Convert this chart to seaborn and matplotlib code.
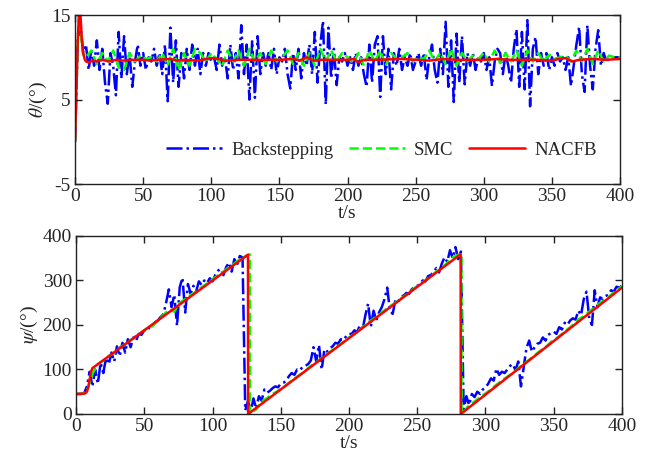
import numpy as np
import matplotlib
matplotlib.use("Agg")
import matplotlib.pyplot as plt
import seaborn as sns

# ---- theta (grados), Backstepping muestreado cada 2 s ----
t_bs = np.arange(0, 401, 2)
theta_bs = [
    0, 12, 14, 10.5, 11.5, 8.5, 11, 9, 12, 8.5,
    11, 7, 4.5, 10.5, 9, 5.5, 13, 7.5, 12.5, 8,
    10.5, 6.5, 9.5, 11.5, 9, 10.5, 8.5, 10, 9.5, 11,
    9, 10.5, 8, 11.5, 4.8, 13.5, 7, 12, 6.5, 10.5,
    7.5, 11, 8.5, 11.5, 9, 11, 8, 10.5, 9, 10.5,
    9.5, 10, 8.5, 11.5, 9, 10, 7.5, 11.5, 8.5, 10.5,
    7.5, 13.8, 8, 11.5, 5, 12, 5.2, 12.5, 8, 10.5,
    9, 10.5, 8.5, 11, 8, 10, 9.5, 11, 8, 6.3,
    10.5, 8.5, 11, 7.5, 10.5, 9, 11.5, 8, 13, 7,
    11.5, 14.3, 4.4, 13.5, 7.5, 11, 6.7, 10, 9.5, 10.5,
    9, 10, 8.5, 10.5, 9, 10, 8, 6.5, 11.5, 7,
    11.5, 12.5, 5.3, 12.5, 8, 11, 6.2, 10.5, 9, 11,
    8.5, 10, 9, 10.5, 8.5, 9.5, 10.5, 9, 10.5, 7.3,
    10, 11.5, 8.5, 7, 11, 8, 14.2, 6.5, 12, 4.7,
    12.8, 7, 12.5, 6.8, 10.5, 9, 10.5, 8.5, 10, 9.5,
    10.5, 8.5, 10, 6.6, 9.5, 11, 10.5, 8, 10.5, 9,
    7, 11, 13.3, 6.5, 13, 6.2, 14.4, 4.2, 11, 12.4,
    8, 10.5, 9, 10.5, 8.5, 10, 9, 10.5, 9.5, 10,
    8.5, 10, 6.6, 9, 11.5, 13.6, 8, 5.9, 13.8, 9,
    6.2, 11, 13.2, 9, 10.5, 9.5, 10, 10, 10, 10,
    10,
]

t_smc_theta = [0, 1, 2, 3, 4, 5, 6] + list(range(8, 401, 4))
theta_smc = [
    0, 6, 12, 15, 14, 11.5, 10.3,
    10, 10.8, 9.2, 10.5, 9.5, 10.8, 8.8, 8.5, 10.5, 9.5,
    10.2, 9.8, 10, 9.5, 10.5, 9, 11, 8.5, 10.5, 9,
    11, 10.5, 9.5, 10.5, 9.8, 9, 10.8, 9.5, 10.8, 9,
    11, 9.5, 10.5, 9.2, 10.8, 9.5, 10, 10.8, 9.2, 10.5,
    9, 10.5, 9, 11, 9.5, 10.8, 9.5, 10.5, 10, 9.3,
    10.5, 9, 10.8, 9.5, 10.8, 9, 10.5, 9.8, 10, 10.5,
    9.5, 10, 9.8, 10.8, 9.5, 10.5, 9.2, 11, 9, 10.5,
    9.5, 10.2, 9.8, 10.5, 9.5, 10.8, 9.3, 10.5, 9.5, 10.8,
    9, 10.8, 9.5, 10.5, 9.5, 10.3, 9.8, 10, 10.2, 9.5,
    10.8, 9.5, 11, 9.2, 10.8, 9.5, 10.2, 10, 10,
]

t_nacfb_theta = [0, 1, 2, 3, 4, 5, 6, 7, 8, 10, 13, 16, 20, 25, 30, 35, 40, 50, 55,
                 60, 70, 75, 80, 90, 100, 105, 110, 120, 130, 140, 150, 160, 165,
                 170, 175, 180, 190, 200, 205, 208, 212, 220, 240, 250, 260, 270,
                 280, 300, 310, 320, 340, 350, 355, 360, 365, 370, 380, 390, 400]
theta_nacfb = [0, 6, 12, 15.5, 15, 12, 10.5, 9.8, 9.5, 9.4, 9.6, 9.5, 9.7, 9.5, 9.7,
               9.6, 9.7, 9.7, 9.6, 9.7, 9.8, 9.6, 9.7, 9.6, 9.9, 9.8, 9.6, 9.7, 9.7,
               9.7, 9.7, 9.8, 9.6, 10.0, 9.6, 9.7, 9.7, 9.7, 9.8, 9.4, 9.7, 9.7, 9.8,
               9.7, 9.6, 9.8, 9.7, 9.7, 9.8, 9.7, 9.7, 9.6, 9.8, 9.9, 9.5, 9.7, 9.8,
               9.7, 9.8]

# ---- psi (grados) ----
psi_bs = [
    45, 45, 45, 47, 62, 95, 62, 100, 68, 115,
    92, 126, 112, 138, 118, 152, 130, 160, 138, 168,
    150, 172, 165, 180, 178, 188, 186, 196, 198, 206,
    210, 218, 224, 250, 280, 240, 268, 198, 285, 306,
    228, 292, 270, 288, 275, 298, 290, 300, 294, 305,
    298, 312, 322, 326, 312, 330, 340, 320, 348, 335,
    355, 352, 8, 30, 5, 35, 12, 40, 30, 55,
    48, 52, 58, 62, 60, 68, 70, 75, 85, 92,
    88, 100, 98, 106, 108, 112, 120, 150, 118, 155,
    100, 145, 140, 148, 152, 160, 158, 168, 166, 175,
    180, 180, 188, 184, 200, 190, 222, 248, 196, 232,
    210, 228, 240, 258, 284, 232, 225, 256, 252, 264,
    266, 272, 270, 280, 286, 288, 292, 300, 298, 310,
    312, 320, 328, 318, 338, 352, 342, 368, 350, 375,
    348, 365, 10, 40, 20, 45, 38, 50, 45, 55,
    60, 68, 80, 75, 102, 88, 95, 92, 100, 108,
    112, 98, 118, 62, 105, 148, 165, 140, 150, 158,
    160, 172, 165, 178, 182, 185, 180, 195, 190, 205,
    200, 210, 215, 212, 232, 222, 258, 275, 215, 200,
    278, 240, 262, 258, 265, 268, 278, 275, 286, 284,
    288,
]

t_smc_psi = (list(range(0, 125, 4)) + [127.3, 127.4] + list(range(128, 281, 4))
             + [282.4, 282.5] + list(range(284, 401, 4)))
psi_smc = [
    45, 45, 52, 90, 112, 120, 130, 137, 150, 156, 166, 175, 184, 192, 197, 210,
    222, 235, 230, 250, 258, 268, 275, 285, 293, 302, 312, 320, 330, 338, 348, 354,
    359, 0,
    3, 10, 28, 36, 45, 52, 60, 70, 80, 88, 97, 108, 116, 126, 135, 144, 153, 162,
    172, 180, 190, 200, 210, 218, 228, 238, 246, 255, 264, 272, 283, 292, 300, 310,
    320, 328, 340, 352, 358,
    360, 0,
    5, 20, 28, 38, 46, 55, 66, 75, 84, 92, 103, 112, 122, 132, 142, 150, 162, 170,
    180, 190, 200, 212, 220, 230, 240, 250, 258, 268, 278, 287,
]

t_nacfb_psi = [0, 6.5, 8, 9, 10, 11, 12, 126.0, 126.1, 281.8, 281.9, 400]
psi_nacfb = [45, 46, 50, 60, 78, 95, 103, 358, 0, 359, 0, 284]

sns.set_style("ticks")
plt.rcParams["font.family"] = ["Liberation Serif", "DejaVu Serif"]
plt.rcParams["mathtext.fontset"] = "stix"
plt.rcParams["axes.unicode_minus"] = False
plt.rcParams["xtick.direction"] = "in"
plt.rcParams["ytick.direction"] = "in"
plt.rcParams["xtick.top"] = True
plt.rcParams["ytick.right"] = True
plt.rcParams["axes.axisbelow"] = False

fig = plt.figure(figsize=(6.53, 4.65), dpi=100)
ax1 = fig.add_axes([0.1149, 0.6043, 0.8346, 0.3634])
ax2 = fig.add_axes([0.1164, 0.1097, 0.8361, 0.3828])

azul, verde, rojo = "#0000ff", "#00ff00", "#ff0000"
grosor = 1.8

# Gráfica 1: theta
sns.lineplot(x=t_bs, y=theta_bs, ax=ax1, color=azul, lw=grosor, linestyle="-.",
             sort=False, estimator=None, label="Backstepping")
sns.lineplot(x=t_smc_theta, y=theta_smc, ax=ax1, color=verde, lw=grosor, linestyle="--",
             sort=False, estimator=None, label="SMC")
sns.lineplot(x=t_nacfb_theta, y=theta_nacfb, ax=ax1, color=rojo, lw=grosor,
             sort=False, estimator=None, label="NACFB")
ax1.set_xlim(0, 400)
ax1.set_ylim(-5, 15)
ax1.set_yticks([-5, 5, 15])
ax1.set_xticks(range(0, 401, 50))
ax1.set_xlabel("t/s", fontsize=14, labelpad=0)
ax1.set_ylabel(r"$\theta$/(°)", fontsize=14, labelpad=2)
ax1.legend(ncol=3, frameon=False, loc="center", bbox_to_anchor=(0.562, 0.2),
           fontsize=13.5, handlelength=3.0, handletextpad=0.5, columnspacing=0.8)

# Gráfica 2: psi
sns.lineplot(x=t_bs, y=psi_bs, ax=ax2, color=azul, lw=grosor, linestyle="-.",
             sort=False, estimator=None)
sns.lineplot(x=t_smc_psi, y=psi_smc, ax=ax2, color=verde, lw=grosor, linestyle="--",
             sort=False, estimator=None)
sns.lineplot(x=t_nacfb_psi, y=psi_nacfb, ax=ax2, color=rojo, lw=grosor,
             sort=False, estimator=None)
ax2.set_xlim(0, 400)
ax2.set_ylim(0, 400)
ax2.set_yticks(range(0, 401, 100))
ax2.set_xticks(range(0, 401, 50))
ax2.set_xlabel("t/s", fontsize=14, labelpad=0)
ax2.set_ylabel(r"$\psi$/(°)", fontsize=14, labelpad=2)

for ax in (ax1, ax2):
    ax.tick_params(which="major", direction="in", top=True, right=True, labelsize=14,
                   length=5, width=1.0, color="#222222", pad=3)
    for s in ax.spines.values():
        s.set_visible(True)
        s.set_color("#222222")
        s.set_linewidth(1.0)

fig.savefig("out.png", dpi=100)
